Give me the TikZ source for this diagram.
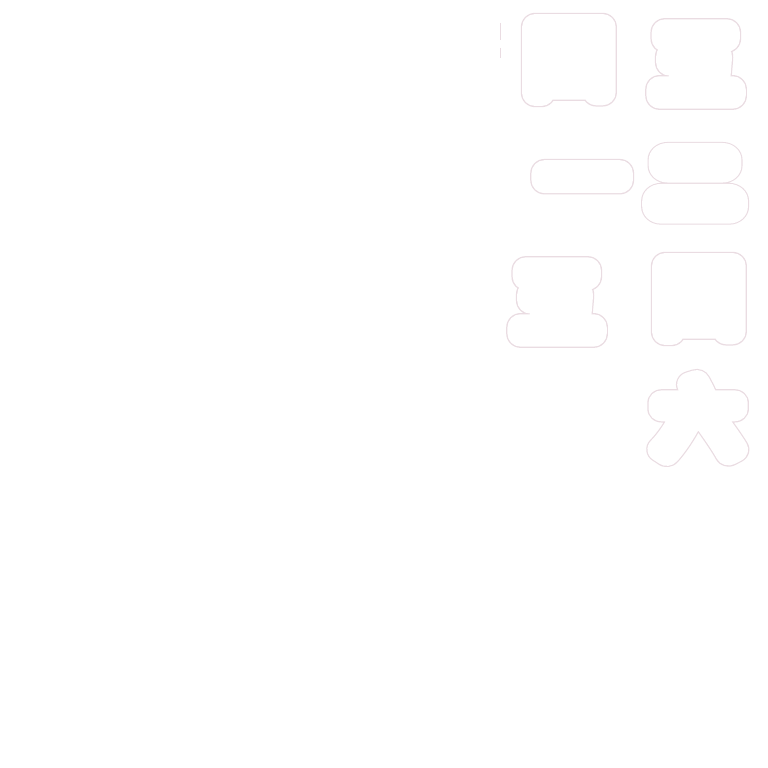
\documentclass[tikz,border=0pt]{standalone}
\usepackage{fontspec}
\newfontfamily\cjkout[FakeBold=35]{Noto Sans CJK SC}
\newfontfamily\cjkin[FakeBold=32]{Noto Sans CJK SC}
\newfontfamily\cjkoutB[FakeBold=52]{Noto Sans CJK SC}
\newfontfamily\cjkinB[FakeBold=49]{Noto Sans CJK SC}
\definecolor{rim}{RGB}{234,220,226}
\tikzset{
  rimchar/.style={inner sep=0pt, text=rim, font=\cjkout\fontsize{82}{82}\selectfont, line join=round},
  facechar/.style={inner sep=0pt, text=white, font=\cjkin\fontsize{82}{82}\selectfont, line join=round},
  barsrim/.style={rimchar, font=\cjkoutB\fontsize{69}{69}\selectfont, xscale=1.11, transform shape},
  barsface/.style={facechar, font=\cjkinB\fontsize{69}{69}\selectfont, xscale=1.11, transform shape},
}
\newcommand{\blobchar}[4][]{%
  \node[rimchar,#1] (r#2) at #3 {#4};
  \node[facechar,#1] (f#2) at #3 {#4};
}
\begin{document}
\begin{tikzpicture}[x=1pt,y=-1pt]
\useasboundingbox[fill=white] (0,0) rectangle (768,768);
\blobchar{a}{(569,60)}{四}
\blobchar{b}{(696,64)}{五}
\blobchar{c}{(582,191)}{一}
\node[barsrim] (rd) at (695,184) {二};
\node[barsface] (fd) at (695,184) {二};
\blobchar{e}{(557,302)}{五}
\blobchar{f}{(699,299)}{四}
\blobchar[yscale=0.95, transform shape]{g}{(698,418)}{六}
\draw[rim, line width=1pt] (500,23) -- (500,40) (500,48) -- (500,58);
\end{tikzpicture}
\end{document}
